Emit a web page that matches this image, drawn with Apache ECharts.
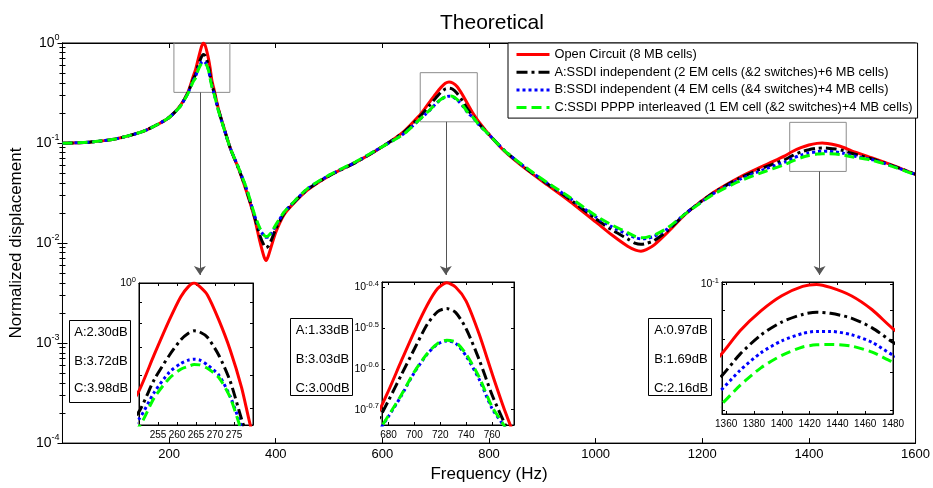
<!DOCTYPE html>
<html><head><meta charset="utf-8">
<script src="https://cdn.jsdelivr.net/npm/echarts@6/dist/echarts.min.js"></script>
<style>html,body{margin:0;padding:0;background:#fff}#c{width:933px;height:488px}</style>
</head><body><div id="c"></div>
<script>
// ---------------- data ----------------
const freq = [0,50,100,150,180,200,220,235,245,
  250,254,258,261,263,264.5,266,268,271,274,277,280,
  285,292,300,315,330,345,360,370,378,382,386,392,400,415,430,460,500,550,600,640,
  670,680,690,700,710,718,725,732,740,750,760,770,780,
  800,830,870,910,950,1000,1030,1060,1075,1085,1095,1110,1135,1170,1220,1270,1320,
  1355,1370,1385,1400,1415,1425,1435,1450,1465,1480,
  1520,1560,1600];
const openCircuit = [0.0995,0.102,0.11,0.13,0.155,0.18,0.232,0.32,0.46,
  0.55,0.672,0.815,0.927,0.98,1.0,0.98,0.936,0.815,0.69,0.56,0.43,
  0.33,0.225,0.16,0.088,0.056,0.033,0.018,0.0105,0.0073,0.0067,0.0074,0.0094,0.0128,0.019,0.0238,0.034,0.047,0.064,0.092,0.13,
  0.19,0.222,0.263,0.31,0.36,0.395,0.408,0.398,0.368,0.306,0.245,0.198,0.165,
  0.122,0.082,0.0545,0.038,0.0265,0.0163,0.0121,0.0093,0.0085,0.0083,0.0086,0.0096,0.0128,0.0198,0.0318,0.0455,0.061,
  0.0745,0.0828,0.0898,0.0955,0.0992,0.1,0.0988,0.0955,0.0902,0.0835,
  0.0705,0.059,0.0485];
const ssdiA = [0.0995,0.102,0.11,0.13,0.155,0.18,0.231,0.315,0.43,
  0.49,0.585,0.67,0.73,0.757,0.767,0.762,0.74,0.67,0.58,0.47,0.39,
  0.31,0.22,0.158,0.088,0.056,0.034,0.0185,0.012,0.0095,0.009,0.0093,0.0108,0.0138,0.0195,0.0242,0.0345,0.047,0.064,0.092,0.128,
  0.183,0.21,0.243,0.281,0.323,0.347,0.353,0.345,0.315,0.265,0.217,0.184,0.158,
  0.122,0.083,0.0555,0.039,0.0278,0.0175,0.0136,0.011,0.0099,0.0097,0.0099,0.0106,0.0133,0.02,0.0315,0.0445,0.058,
  0.0682,0.0753,0.0814,0.0858,0.0885,0.0893,0.0889,0.0872,0.0838,0.079,
  0.069,0.0585,0.0485];
const ssdiB = [0.0995,0.102,0.11,0.13,0.155,0.18,0.23,0.312,0.42,
  0.47,0.545,0.61,0.64,0.652,0.655,0.652,0.635,0.6,0.533,0.45,0.38,
  0.305,0.217,0.157,0.088,0.057,0.035,0.019,0.0138,0.0118,0.0114,0.0116,0.0125,0.0148,0.02,0.0245,0.035,0.0475,0.0645,0.092,0.124,
  0.172,0.192,0.216,0.246,0.273,0.289,0.294,0.29,0.27,0.237,0.201,0.18,0.154,
  0.121,0.083,0.056,0.0395,0.0285,0.0183,0.0146,0.0122,0.0113,0.011,0.0111,0.0117,0.0139,0.02,0.031,0.0432,0.0555,
  0.0646,0.0705,0.0757,0.0795,0.0819,0.0826,0.0826,0.0815,0.079,0.075,
  0.068,0.058,0.0485];
const ssdiC = [0.0995,0.102,0.11,0.13,0.155,0.18,0.229,0.31,0.41,
  0.45,0.529,0.59,0.62,0.63,0.636,0.635,0.623,0.592,0.53,0.44,0.37,
  0.30,0.215,0.156,0.088,0.057,0.0355,0.0195,0.0142,0.012,0.0116,0.0118,0.0128,0.0152,0.0202,0.0246,0.0352,0.0478,0.065,0.092,0.123,
  0.172,0.193,0.217,0.247,0.274,0.29,0.295,0.292,0.273,0.24,0.203,0.181,0.155,
  0.121,0.083,0.0565,0.04,0.029,0.0188,0.0152,0.0127,0.0116,0.0113,0.0114,0.012,0.0142,0.0199,0.0305,0.0415,0.0525,
  0.0609,0.0663,0.0712,0.0749,0.0775,0.0782,0.0783,0.0778,0.0759,0.0729,
  0.067,0.0575,0.048];
const seriesNames = ['Open Circuit (8 MB cells)',
  'A:SSDI independent (2 EM cells (&2 switches)+6 MB cells)',
  'B:SSDI independent (4 EM cells (&4 switches)+4 MB cells)',
  'C:SSDI PPPP interleaved (1 EM cell (&2 switches)+4 MB cells)'];
const dbLabels1 = ['A:2.30dB','B:3.72dB','C:3.98dB'];
const dbLabels2 = ['A:1.33dB','B:3.03dB','C:3.00dB'];
const dbLabels3 = ['A:0.97dB','B:1.69dB','C:2.16dB'];
// zoom boxes [f1, f2, vLow, vHigh] and arrows [f, vFrom, vTo]
const zoomBoxes = [[209,314,0.321,1.0],[671,778,0.163,0.505],[1364,1470,0.052,0.161]];
const zoomArrows = [[257.7,0.321,0.0048],[719,0.163,0.0048],[1420,0.052,0.0048]];

// ---------------- styling ----------------
const FONT = '"Liberation Sans", Arial, Helvetica, sans-serif';
const allValues = [openCircuit, ssdiA, ssdiB, ssdiC];
const lineStyles = [
  {color:'#ff0000', type:'solid'},
  {color:'#000000', type:[11,4,3,4]},
  {color:'#0000ff', type:[3,3]},
  {color:'#00ff00', type:[10,5]}
];
function supRich(bs, ss, lh){
  return { b:{fontSize:bs, lineHeight:lh, fontFamily:FONT, color:'#000'},
           s:{fontSize:ss, lineHeight:ss, verticalAlign:'top', fontFamily:FONT, color:'#000'} };
}
function powLabel(v, step){
  const e = Math.log10(v) / step;
  const r = Math.round(e);
  if (Math.abs(e - r) > 1e-3) return '';
  const txt = step === 1 ? String(r) : (r*step).toFixed(1);
  return '{b|10}{s|' + txt + '}';
}
function pairs(vals){ return freq.map((f,i)=>[f, vals[i]]); }

const insetDefs = [
  {grid:{left:139, top:283, width:114, height:142}, xMin:250, xMax:280, xInterval:5, yMin:0.455, yMax:1.0, yBase:10, step:1, minor:true, showMaxX:false},
  {grid:{left:382, top:282, width:132, height:143}, xMin:675, xMax:777, xInterval:null, yMin:0.183, yMax:0.41, yBase:Math.pow(10,0.1), step:0.1, minor:false, showMaxX:false},
  {grid:{left:722, top:282, width:171, height:132}, xMin:1357, xMax:1480, xInterval:null, yMin:0.059, yMax:0.101, yBase:10, step:1, minor:true, showMaxX:true}
];

const grids = [{left:59, top:43, width:858, height:408, show:true, borderColor:'#000', borderWidth:1}];
const xAxes = [], yAxes = [], series = [];
const tickStyle = {color:'#000', width:1};
// main axes
xAxes.push({gridIndex:0, type:'value', min:0, max:1600, interval:200, position:'bottom',
  axisLine:{show:true, lineStyle:tickStyle}, axisTick:{show:true, inside:true, length:5, lineStyle:tickStyle},
  axisLabel:{fontSize:13, color:'#000', fontFamily:FONT, margin:5, formatter:v => v === 0 ? '' : String(v)},
  splitLine:{show:false}, name:'Frequency (Hz)', nameLocation:'middle', nameGap:21,
  nameTextStyle:{fontSize:17, color:'#000', fontFamily:FONT}});
xAxes.push({gridIndex:0, type:'value', min:0, max:1600, interval:200, position:'top',
  axisLine:{show:true, lineStyle:tickStyle}, axisTick:{show:true, inside:true, length:5, lineStyle:tickStyle},
  axisLabel:{show:false}, splitLine:{show:false}});
yAxes.push({gridIndex:0, type:'log', logBase:10, min:0.0001, max:1, position:'left',
  axisLine:{show:true, lineStyle:tickStyle}, axisTick:{show:true, inside:true, length:5, lineStyle:tickStyle},
  minorTick:{show:true, splitNumber:9, length:3, lineStyle:tickStyle},
  axisLabel:{margin:3, formatter:v => powLabel(v,1), rich:supRich(14,9,20)},
  splitLine:{show:false}, minorSplitLine:{show:false},
  name:'Normalized displacement', nameLocation:'middle', nameGap:28,
  nameTextStyle:{fontSize:17, color:'#000', fontFamily:FONT}});
yAxes.push({gridIndex:0, type:'log', logBase:10, min:0.0001, max:1, position:'right',
  axisLine:{show:true, lineStyle:tickStyle}, axisTick:{show:true, inside:true, length:5, lineStyle:tickStyle},
  minorTick:{show:true, splitNumber:9, length:3, lineStyle:tickStyle},
  axisLabel:{show:false}, splitLine:{show:false}, minorSplitLine:{show:false}});

// main series
for (let i = 0; i < 4; i++) {
  const s = {name:seriesNames[i], type:'line', xAxisIndex:0, yAxisIndex:0, data:pairs(allValues[i]),
    symbol:'none', showSymbol:false, smooth:0.25, z:3+i, color:lineStyles[i].color,
    itemStyle:{color:lineStyles[i].color},
    lineStyle:Object.assign({width:3}, lineStyles[i])};
  if (i === 0) {
    s.markArea = {silent:true, label:{show:false},
      itemStyle:{color:'rgba(0,0,0,0)', borderColor:'#8c8c8c', borderWidth:1},
      data: zoomBoxes.map(b => [{coord:[b[0], b[2]]}, {coord:[b[1], b[3]]}])};
    s.markLine = {silent:true, symbol:['none','arrow'], symbolSize:9, label:{show:false},
      lineStyle:{color:'#555', width:1, type:'solid'},
      data: zoomArrows.map(a => [{coord:[a[0], a[1]]}, {coord:[a[0], a[2]]}])};
  }
  series.push(s);
}

// insets
insetDefs.forEach((d, k) => {
  const gi = k + 1;
  grids.push(Object.assign({show:true, borderColor:'#000', borderWidth:1, backgroundColor:'#fff'}, d.grid));
  const xBase = {gridIndex:gi, type:'value', min:d.xMin, max:d.xMax,
    axisLine:{show:true, lineStyle:tickStyle}, axisTick:{show:true, inside:true, length:3, lineStyle:tickStyle},
    splitLine:{show:false}};
  if (d.xInterval) xBase.interval = d.xInterval;
  xAxes.push(Object.assign({}, xBase, {position:'bottom',
    axisLabel:{fontSize:10, color:'#000', fontFamily:FONT, margin:5, showMinLabel:false, showMaxLabel:d.showMaxX,
      formatter:v => String(v)}}));
  xAxes.push(Object.assign({}, xBase, {position:'top', axisLabel:{show:false}}));
  const yBase = {gridIndex:gi, type:'log', logBase:d.yBase, min:d.yMin, max:d.yMax,
    axisLine:{show:true, lineStyle:tickStyle}, axisTick:{show:true, inside:true, length:3, lineStyle:tickStyle},
    minorTick:{show:d.minor, splitNumber:9, length:3, lineStyle:tickStyle},
    splitLine:{show:false}, minorSplitLine:{show:false}};
  yAxes.push(Object.assign({}, yBase, {position:'left',
    axisLabel:{margin:3, formatter:v => powLabel(v, d.step), rich:supRich(10.5,7.5,15)}}));
  yAxes.push(Object.assign({}, yBase, {position:'right', axisLabel:{show:false}}));
  for (let i = 0; i < 4; i++) {
    series.push({name:seriesNames[i], type:'line', xAxisIndex:2*gi, yAxisIndex:2*gi,
      data:pairs(allValues[i]), symbol:'none', showSymbol:false, smooth:0.25, clip:true, z:3+i,
      color:lineStyles[i].color, itemStyle:{color:lineStyles[i].color},
      lineStyle:Object.assign({width:3}, lineStyles[i])});
  }
});

// dB annotation boxes
function dbBox(x, y, w, h, labels, ys){
  const children = [{type:'rect', shape:{x:0, y:0, width:w, height:h},
    style:{fill:'#fff', stroke:'#000', lineWidth:1}}];
  labels.forEach((t, i) => children.push({type:'text', x:w/2 + 1, y:ys[i],
    style:{text:t, fontSize:13, fontFamily:FONT, fill:'#000', align:'center', verticalAlign:'middle'}}));
  return {type:'group', x:x + 0.5, y:y + 0.5, z:50, children};
}

const option = {
  animation:false,
  backgroundColor:'#fff',
  title:{text:'Theoretical', left:435, top:8, itemGap:0,
    textStyle:{fontSize:21, fontWeight:'normal', color:'#000', fontFamily:FONT}},
  legend:{data:seriesNames, orient:'vertical', left:508, top:43,
    itemWidth:33, itemHeight:12, itemGap:4.7,
    padding:[5,5,4,7], backgroundColor:'#fff', borderColor:'#000', borderWidth:1, selectedMode:false,
    itemStyle:{opacity:0, borderWidth:0}, lineStyle:{width:3},
    textStyle:{fontSize:12.8, color:'#000', fontFamily:FONT}},
  grid:grids, xAxis:xAxes, yAxis:yAxes, series:series,
  graphic:[
    dbBox(69, 320, 61, 82, dbLabels1, [12, 41, 68]),
    dbBox(290, 318, 62, 77, dbLabels2, [12, 41, 70]),
    dbBox(648, 318, 63, 77, dbLabels3, [12, 41, 70])
  ]
};
const chart = echarts.init(document.getElementById('c'), null, {renderer:'canvas'});
chart.setOption(option);
</script>
</body></html>
